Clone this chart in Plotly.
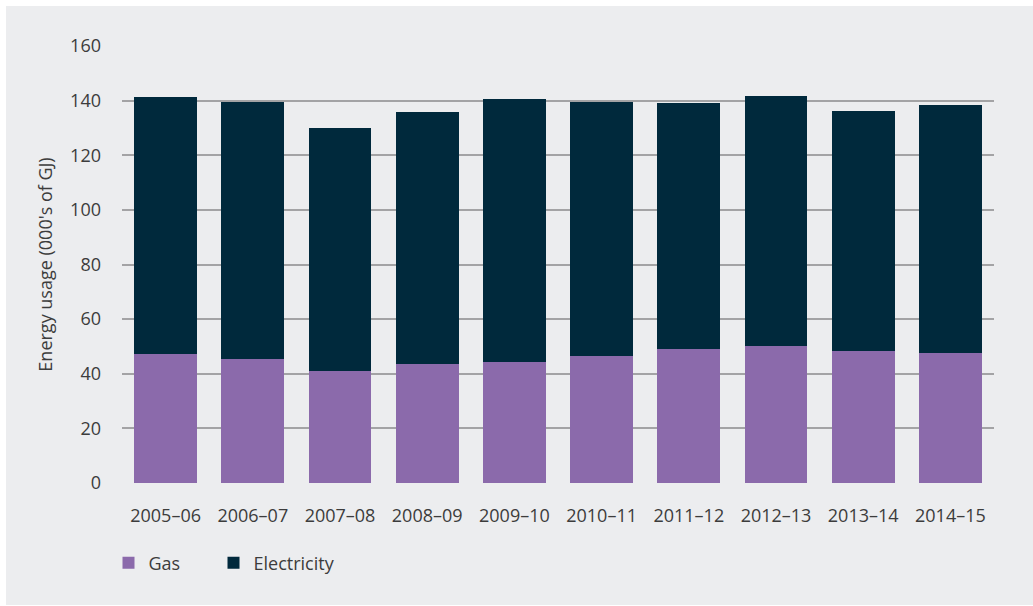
import plotly.graph_objects as go

years = ["2005–06", "2006–07", "2007–08", "2008–09", "2009–10",
         "2010–11", "2011–12", "2012–13", "2013–14", "2014–15"]
gas = [47.2, 45.4, 41.0, 43.5, 44.3, 46.5, 49.0, 50.1, 48.3, 47.6]
electricity = [94.0, 94.0, 88.9, 92.3, 96.2, 92.9, 90.1, 91.6, 87.9, 90.8]
y_ticks = [0, 20, 40, 60, 80, 100, 120, 140, 160]

W, H = 1033, 606
ML, MR, MT, MB = 122, 39, 46, 123
PW = W - ML - MR
PH = H - MT - MB

font_fam = "Open Sans, Segoe UI, sans-serif"
txt_col = "#3c3c3c"

fig = go.Figure()
fig.add_trace(go.Bar(x=years, y=gas, name="Gas", legend="legend", showlegend=True,
                     marker=dict(color="#8b6aab", line=dict(width=0))))
fig.add_trace(go.Bar(x=years, y=electricity, name="Electricity", legend="legend2", showlegend=True,
                     marker=dict(color="#00293c", line=dict(width=0))))

def px_x(X):
    return (X - ML) / PW

def px_y(Y):
    return (H - MB - Y) / PH

leg_common = dict(orientation="h", xanchor="left", yanchor="middle", y=px_y(563),
                  bgcolor="rgba(0,0,0,0)", font=dict(size=18, color=txt_col))

fig.update_layout(
    width=W, height=H,
    showlegend=True,
    barmode="stack",
    bargap=0.278,
    paper_bgcolor="white",
    plot_bgcolor="rgba(0,0,0,0)",
    margin=dict(l=ML, r=MR, t=MT, b=MB, pad=0),
    font=dict(family=font_fam, size=18, color=txt_col),
    shapes=[dict(type="rect", xref="paper", yref="paper",
                 x0=px_x(6), x1=px_x(1040), y0=px_y(605), y1=px_y(6),
                 fillcolor="#ecedef", line=dict(width=0), layer="below")],
    xaxis=dict(showgrid=False, zeroline=False, showline=False, ticks="",
               tickfont=dict(size=18, color=txt_col), ticklabelstandoff=20),
    yaxis=dict(range=[0, 160], tickvals=y_ticks, showgrid=True,
               gridcolor="#a3a3a5", gridwidth=1.5, zeroline=False, showline=False,
               ticks="", ticklabelstandoff=20,
               tickfont=dict(size=18, color=txt_col),
               title=dict(text="Energy usage (000's of GJ)", standoff=12,
                          font=dict(size=18, color=txt_col))),
    legend=dict(x=px_x(108.5), **leg_common),
    legend2=dict(x=px_x(213.5), **leg_common),
)

fig.write_html("out.html")
